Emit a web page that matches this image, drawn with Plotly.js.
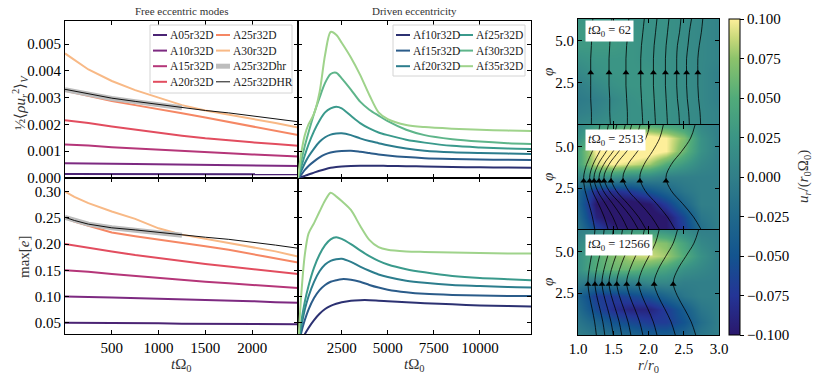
<!DOCTYPE html>
<html>
<head>
<meta charset="utf-8">
<script src="https://cdn.plot.ly/plotly-3.0.1.min.js"></script>
<style>
  html, body { margin: 0; padding: 0; background: #fff; }
  #chart { width: 816px; height: 378px; }
</style>
</head>
<body>
<div id="chart"></div>
<script>
// ---------- free eccentric modes ----------
var tFree   = [0, 100, 250, 500, 750, 1000, 1250, 1500, 1750, 2000, 2250, 2490];
var tFreeHr = [0, 100, 250, 500, 750, 1000, 1250];

var freeNames  = ["A05r32D", "A10r32D", "A15r32D", "A20r32D", "A25r32D", "A30r32D", "A25r32Dhr", "A25r32DHR"];
var freeColors = ["#4b2474", "#7d2a81", "#b53679", "#e24d5f", "#f58764", "#f8b986", "#bdbdbd", "#111111"];
var freeWidths = [2, 2, 2, 2, 2, 2, 5, 1];

// kinetic energy 1/2 <rho u_r^2>_V
var kinA05   = [0.00015, 0.00015, 0.00015, 0.00015, 0.00015, 0.00014, 0.00014, 0.00014, 0.00014, 0.00014, 0.00014, 0.00014];
var kinA10   = [0.00055, 0.00055, 0.00054, 0.00053, 0.00052, 0.00051, 0.00050, 0.00049, 0.00048, 0.00047, 0.00046, 0.00045];
var kinA15   = [0.00125, 0.00124, 0.00121, 0.00115, 0.00110, 0.00105, 0.00100, 0.00096, 0.00092, 0.00088, 0.00084, 0.00080];
var kinA20   = [0.00216, 0.00212, 0.00205, 0.00192, 0.00180, 0.00170, 0.00158, 0.00148, 0.00140, 0.00133, 0.00127, 0.00120];
var kinA25   = [0.00326, 0.00318, 0.00306, 0.00287, 0.00272, 0.00258, 0.00242, 0.00226, 0.00210, 0.00193, 0.00177, 0.00160];
var kinA30   = [0.00465, 0.00440, 0.00405, 0.00362, 0.00328, 0.00300, 0.00272, 0.00252, 0.00237, 0.00221, 0.00205, 0.00188];
var kinA25hr = [0.00330, 0.00323, 0.00313, 0.00297, 0.00285, 0.00274, 0.00262];
var kinA25HR = [0.00331, 0.00324, 0.00314, 0.00298, 0.00286, 0.00275, 0.00262, 0.00252, 0.00243, 0.00232, 0.00221, 0.00210];

// max eccentricity
var eccA05   = [0.050, 0.050, 0.050, 0.049, 0.049, 0.049, 0.048, 0.048, 0.048, 0.047, 0.047, 0.047];
var eccA10   = [0.100, 0.100, 0.099, 0.098, 0.097, 0.096, 0.095, 0.093, 0.092, 0.091, 0.089, 0.088];
var eccA15   = [0.150, 0.149, 0.147, 0.143, 0.139, 0.135, 0.131, 0.128, 0.125, 0.122, 0.119, 0.116];
var eccA20   = [0.200, 0.197, 0.193, 0.186, 0.179, 0.173, 0.167, 0.162, 0.157, 0.152, 0.147, 0.143];
var eccA25   = [0.250, 0.243, 0.235, 0.222, 0.215, 0.209, 0.202, 0.196, 0.189, 0.181, 0.173, 0.165];
var eccA30   = [0.300, 0.290, 0.278, 0.262, 0.248, 0.230, 0.218, 0.210, 0.203, 0.195, 0.186, 0.176];
var eccA25hr = [0.251, 0.245, 0.238, 0.231, 0.227, 0.222, 0.217];
var eccA25HR = [0.251, 0.245, 0.238, 0.231, 0.227, 0.222, 0.217, 0.213, 0.209, 0.204, 0.198, 0.192];

// ---------- driven eccentricity ----------
var tDriven = [130, 300, 500, 700, 1000, 1300, 1600, 1900, 2200, 2500, 3000, 3500, 4000, 4500, 5000, 6000, 7000, 8500, 10000, 11500, 12770];

var drivenNames  = ["Af10r32D", "Af15r32D", "Af20r32D", "Af25r32D", "Af30r32D", "Af35r32D"];
var drivenColors = ["#2c3172", "#2b5c8a", "#2c7d8d", "#3a9a8c", "#5eb58a", "#9fd38b"];

var kinAf10 = [0, 0.00003, 0.00008, 0.00013, 0.00020, 0.00027, 0.00033, 0.00038, 0.00041, 0.00043, 0.00045, 0.00046, 0.00046, 0.00046, 0.00045, 0.00044, 0.00043, 0.00041, 0.00040, 0.00039, 0.00038];
var kinAf15 = [0, 0.00012, 0.00030, 0.00045, 0.00062, 0.00077, 0.00088, 0.00095, 0.00099, 0.00101, 0.00102, 0.00098, 0.00093, 0.00088, 0.00084, 0.00078, 0.00074, 0.00071, 0.00069, 0.00068, 0.00067];
var kinAf20 = [0, 0.00025, 0.00055, 0.00080, 0.00110, 0.00135, 0.00152, 0.00162, 0.00166, 0.00167, 0.00160, 0.00148, 0.00138, 0.00130, 0.00122, 0.00110, 0.00102, 0.00096, 0.00093, 0.00091, 0.00090];
var kinAf25 = [0, 0.00040, 0.00085, 0.00125, 0.00175, 0.00215, 0.00245, 0.00260, 0.00266, 0.00260, 0.00232, 0.00205, 0.00185, 0.00170, 0.00160, 0.00143, 0.00132, 0.00120, 0.00114, 0.00110, 0.00108];
var kinAf30 = [0, 0.00060, 0.00120, 0.00170, 0.00240, 0.00300, 0.00355, 0.00388, 0.00393, 0.00372, 0.00330, 0.00285, 0.00255, 0.00233, 0.00212, 0.00180, 0.00160, 0.00145, 0.00136, 0.00130, 0.00127];
var kinAf35 = [0, 0.00090, 0.00160, 0.00200, 0.00240, 0.00320, 0.00460, 0.00545, 0.00535, 0.00505, 0.00450, 0.00385, 0.00310, 0.00245, 0.00220, 0.00198, 0.00190, 0.00184, 0.00180, 0.00177, 0.00175];

var eccAf10 = [0, 0.012, 0.028, 0.040, 0.055, 0.067, 0.076, 0.082, 0.086, 0.089, 0.092, 0.093, 0.093, 0.092, 0.091, 0.089, 0.087, 0.085, 0.083, 0.082, 0.081];
var eccAf15 = [0, 0.030, 0.055, 0.075, 0.097, 0.112, 0.122, 0.128, 0.131, 0.133, 0.132, 0.128, 0.122, 0.117, 0.113, 0.108, 0.105, 0.103, 0.102, 0.101, 0.101];
var eccAf20 = [0, 0.040, 0.075, 0.100, 0.128, 0.148, 0.161, 0.168, 0.171, 0.172, 0.166, 0.157, 0.149, 0.142, 0.137, 0.130, 0.126, 0.122, 0.120, 0.118, 0.117];
var eccAf25 = [0, 0.050, 0.090, 0.120, 0.155, 0.180, 0.198, 0.209, 0.213, 0.210, 0.200, 0.188, 0.177, 0.168, 0.161, 0.152, 0.146, 0.139, 0.135, 0.133, 0.131];
var eccAf35 = [0, 0.100, 0.180, 0.220, 0.240, 0.262, 0.283, 0.298, 0.291, 0.282, 0.265, 0.235, 0.208, 0.194, 0.189, 0.186, 0.185, 0.184, 0.183, 0.182, 0.182];

// ---------- u_r maps (rows = phi, columns = r) ----------
var rGrid   = [1.0, 1.25, 1.5, 1.75, 2.0, 2.25, 2.5, 2.75, 3.0];
var phiGrid = [0, 0.785, 1.571, 2.356, 3.142, 3.927, 4.712, 5.498, 6.283];
var snapTimes = [62, 2513, 12566];

var ur62 = [
  [0.010, 0.015, 0.020, 0.020, 0.020, 0.020, 0.015, 0.010, 0.005],
  [0.000, 0.005, 0.015, 0.020, 0.020, 0.020, 0.015, 0.010, 0.005],
  [-0.005, 0.000, 0.010, 0.020, 0.025, 0.020, 0.015, 0.010, 0.000],
  [0.000, 0.010, 0.020, 0.025, 0.025, 0.020, 0.015, 0.010, 0.000],
  [0.010, 0.020, 0.025, 0.025, 0.025, 0.020, 0.015, 0.010, 0.000],
  [0.020, 0.025, 0.025, 0.025, 0.020, 0.020, 0.015, 0.010, 0.005],
  [0.030, 0.030, 0.030, 0.025, 0.020, 0.020, 0.015, 0.010, 0.005],
  [0.030, 0.030, 0.030, 0.025, 0.020, 0.020, 0.015, 0.010, 0.005],
  [0.025, 0.025, 0.025, 0.020, 0.020, 0.020, 0.015, 0.010, 0.005]
];
var ur2513 = [
  [-0.010, -0.060, -0.090, -0.100, -0.110, -0.100, -0.070, -0.020, 0.000],
  [-0.020, -0.090, -0.110, -0.110, -0.110, -0.100, -0.060, -0.010, 0.000],
  [-0.030, -0.100, -0.110, -0.110, -0.100, -0.070, -0.030, 0.000, 0.000],
  [-0.030, -0.080, -0.080, -0.070, -0.050, -0.030, -0.010, 0.000, 0.000],
  [0.010, 0.020, 0.020, 0.010, 0.010, 0.000, 0.000, 0.000, 0.000],
  [0.040, 0.090, 0.100, 0.090, 0.080, 0.050, 0.030, 0.010, 0.000],
  [0.040, 0.100, 0.120, 0.120, 0.110, 0.100, 0.060, 0.020, 0.000],
  [0.020, 0.060, 0.090, 0.100, 0.110, 0.100, 0.070, 0.020, 0.000],
  [0.010, 0.030, 0.040, 0.050, 0.050, 0.040, 0.030, 0.010, 0.000]
];
var ur12566 = [
  [0.000, -0.010, -0.020, -0.030, -0.040, -0.040, -0.030, -0.010, 0.000],
  [-0.010, -0.030, -0.050, -0.060, -0.070, -0.070, -0.050, -0.020, 0.000],
  [-0.020, -0.060, -0.080, -0.090, -0.090, -0.070, -0.040, -0.010, 0.000],
  [-0.030, -0.070, -0.070, -0.060, -0.050, -0.030, -0.010, 0.000, 0.000],
  [0.000, -0.010, 0.000, 0.000, 0.010, 0.010, 0.000, 0.000, 0.000],
  [0.020, 0.050, 0.060, 0.060, 0.050, 0.040, 0.020, 0.010, 0.000],
  [0.020, 0.050, 0.070, 0.085, 0.090, 0.080, 0.050, 0.020, 0.000],
  [0.010, 0.030, 0.050, 0.070, 0.080, 0.070, 0.040, 0.010, 0.000],
  [0.000, 0.010, 0.020, 0.030, 0.030, 0.020, 0.010, 0.000, 0.000]
];

// streamlines: r position of each line at the phi samples
var streamPhi = [0, 0.785, 1.571, 2.356, 3.142, 3.927, 4.712, 5.498, 6.283];
var stream62 = [
  [1.19, 1.19, 1.18, 1.18, 1.18, 1.18, 1.19, 1.20, 1.21],
  [1.46, 1.45, 1.45, 1.44, 1.44, 1.44, 1.45, 1.46, 1.48],
  [1.70, 1.70, 1.69, 1.68, 1.68, 1.68, 1.69, 1.71, 1.72],
  [1.92, 1.91, 1.90, 1.89, 1.89, 1.89, 1.90, 1.92, 1.94],
  [2.10, 2.09, 2.08, 2.07, 2.07, 2.07, 2.08, 2.10, 2.12],
  [2.27, 2.26, 2.25, 2.24, 2.24, 2.24, 2.25, 2.27, 2.29],
  [2.44, 2.43, 2.41, 2.40, 2.40, 2.40, 2.41, 2.44, 2.46],
  [2.58, 2.57, 2.55, 2.54, 2.54, 2.54, 2.56, 2.58, 2.61],
  [2.74, 2.73, 2.71, 2.70, 2.70, 2.70, 2.72, 2.75, 2.77]
];
var stream2513 = [
  [1.24, 1.204, 1.154, 1.101, 1.080, 1.122, 1.204, 1.275, 1.31],
  [1.43, 1.371, 1.290, 1.203, 1.165, 1.214, 1.309, 1.390, 1.43],
  [1.57, 1.493, 1.388, 1.276, 1.227, 1.286, 1.402, 1.501, 1.55],
  [1.71, 1.618, 1.492, 1.357, 1.298, 1.366, 1.499, 1.613, 1.67],
  [1.86, 1.750, 1.600, 1.440, 1.368, 1.440, 1.580, 1.700, 1.76],
  [1.97, 1.858, 1.705, 1.542, 1.468, 1.544, 1.691, 1.817, 1.88],
  [2.16, 2.043, 1.884, 1.715, 1.638, 1.708, 1.845, 1.962, 2.02],
  [2.38, 2.268, 2.115, 1.952, 1.877, 1.938, 2.057, 2.159, 2.21],
  [2.75, 2.638, 2.485, 2.322, 2.248, 2.324, 2.471, 2.597, 2.66]
];
var stream12566 = [
  [1.26, 1.236, 1.200, 1.162, 1.14, 1.158, 1.190, 1.222, 1.24],
  [1.38, 1.352, 1.310, 1.265, 1.24, 1.263, 1.305, 1.347, 1.37],
  [1.50, 1.468, 1.420, 1.369, 1.34, 1.369, 1.420, 1.471, 1.50],
  [1.62, 1.584, 1.530, 1.472, 1.44, 1.474, 1.535, 1.596, 1.63],
  [1.75, 1.710, 1.650, 1.586, 1.55, 1.590, 1.660, 1.730, 1.77],
  [1.92, 1.874, 1.805, 1.731, 1.69, 1.735, 1.815, 1.895, 1.94],
  [2.12, 2.068, 1.990, 1.907, 1.86, 1.912, 2.005, 2.098, 2.15],
  [2.38, 2.320, 2.230, 2.134, 2.08, 2.139, 2.245, 2.351, 2.41],
  [2.67, 2.606, 2.510, 2.408, 2.35, 2.415, 2.530, 2.645, 2.71]
];
// arrow heads on the streamlines
var arrowPhi = [3.09, 2.93, 3.03];
var arrowR62    = [1.18, 1.44, 1.68, 1.89, 2.07, 2.24, 2.40, 2.54, 2.70];
var arrowR2513  = [1.08, 1.165, 1.227, 1.298, 1.368, 1.468, 1.638, 1.877, 2.248];
var arrowR12566 = [1.14, 1.24, 1.34, 1.44, 1.55, 1.69, 1.86, 2.08, 2.35];

var freeTicks = [500, 1000, 1500, 2000];
var drivenTicks = [2500, 5000, 7500, 10000];
var kinTicks = [0, 0.001, 0.002, 0.003, 0.004, 0.005];
var eccTicks = [0.05, 0.10, 0.15, 0.20, 0.25, 0.30];
var urTicks = [-0.1, -0.075, -0.05, -0.025, 0, 0.025, 0.05, 0.075, 0.1];

var SERIF = "Liberation Serif";
var W = 816, H = 378;
function px(x) { return x / W; }
function py(y) { return 1 - y / H; }

var traces = [];

var kinFree = [kinA05, kinA10, kinA15, kinA20, kinA25, kinA30, kinA25hr, kinA25HR];
var eccFree = [eccA05, eccA10, eccA15, eccA20, eccA25, eccA30, eccA25hr, eccA25HR];
freeNames.forEach(function(name, i) {
  var t = (i == 6) ? tFreeHr : tFree;
  traces.push({x: t, y: kinFree[i], xaxis: "x2", yaxis: "y2", type: "scatter", mode: "lines",
    name: name, line: {color: freeColors[i], width: freeWidths[i]}, hoverinfo: "skip"});
  traces.push({x: t, y: eccFree[i], xaxis: "x", yaxis: "y", type: "scatter", mode: "lines",
    name: name, line: {color: freeColors[i], width: freeWidths[i]}, hoverinfo: "skip"});
});

var kinDriven = [kinAf10, kinAf15, kinAf20, kinAf25, kinAf30, kinAf35];
var eccDriven = [eccAf10, eccAf15, eccAf20, eccAf25, null, eccAf35];
drivenNames.forEach(function(name, i) {
  traces.push({x: tDriven, y: kinDriven[i], xaxis: "x4", yaxis: "y4", type: "scatter", mode: "lines",
    name: name, line: {color: drivenColors[i], width: 2, shape: "spline", smoothing: 0.8}, hoverinfo: "skip"});
  if (eccDriven[i]) {
    traces.push({x: tDriven, y: eccDriven[i], xaxis: "x3", yaxis: "y3", type: "scatter", mode: "lines",
      name: name, line: {color: drivenColors[i], width: 2, shape: "spline", smoothing: 0.8}, hoverinfo: "skip"});
  }
});

var maps = [ur62, ur2513, ur12566];
var streams = [stream62, stream2513, stream12566];
var arrows = [arrowR62, arrowR2513, arrowR12566];
maps.forEach(function(z, k) {
  var xa = "x" + (5 + k), ya = "y" + (5 + k);
  traces.push({type: "heatmap", x: rGrid, y: phiGrid, z: z, coloraxis: "coloraxis",
    zsmooth: "best", xaxis: xa, yaxis: ya, hoverinfo: "skip"});
  streams[k].forEach(function(line) {
    traces.push({x: line, y: streamPhi, xaxis: xa, yaxis: ya, type: "scatter", mode: "lines",
      line: {color: "black", width: 0.8, shape: "spline"}, hoverinfo: "skip"});
  });
  traces.push({x: arrows[k], y: arrows[k].map(function() { return arrowPhi[k]; }),
    xaxis: xa, yaxis: ya, type: "scatter", mode: "markers",
    marker: {symbol: "triangle-up", size: 6, color: "black"}, hoverinfo: "skip"});
});

var tickFont = {family: SERIF, size: 15, color: "black"};
var axisBase = {
  showline: true, linecolor: "black", linewidth: 1, mirror: "ticks",
  ticks: "inside", ticklen: 4, tickcolor: "black", showgrid: false, zeroline: false,
  tickfont: tickFont, fixedrange: true
};
function ax(extra) { return Object.assign({}, axisBase, extra); }

var leftX = [px(65), px(298)], midX = [px(298), px(531)], mapX = [px(578), px(719)];
var topY = [py(178), py(21)], botY = [py(334), py(178)];

var layout = {
  width: W, height: H,
  margin: {l: 0, r: 0, t: 0, b: 0},
  paper_bgcolor: "white", plot_bgcolor: "white",
  showlegend: false,
  font: {family: SERIF, size: 14, color: "black"},
  xaxis:  ax({domain: leftX, range: [0, 2490], tickvals: freeTicks, tickformat: "d", anchor: "y"}),
  yaxis:  ax({domain: botY, range: [0.0284, 0.326], tickvals: eccTicks, tickformat: ".2f", anchor: "x"}),
  xaxis2: ax({domain: leftX, range: [0, 2490], tickvals: freeTicks, showticklabels: false, anchor: "y2"}),
  yaxis2: ax({domain: topY, range: [0, 0.00586], tickvals: kinTicks, tickformat: ".3f", anchor: "x2"}),
  xaxis3: ax({domain: midX, range: [130, 12770], tickvals: drivenTicks, tickformat: "d", anchor: "y3"}),
  yaxis3: ax({domain: botY, range: [0.0284, 0.326], tickvals: eccTicks, showticklabels: false, anchor: "x3"}),
  xaxis4: ax({domain: midX, range: [130, 12770], tickvals: drivenTicks, showticklabels: false, anchor: "y4"}),
  yaxis4: ax({domain: topY, range: [0, 0.00586], tickvals: kinTicks, showticklabels: false, anchor: "x4"}),
  xaxis5: ax({domain: mapX, range: [1, 3], tickvals: [1, 1.5, 2, 2.5, 3], showticklabels: false, anchor: "y5"}),
  yaxis5: ax({domain: [py(125), py(19)], range: [0, 6.283], tickvals: [2.5, 5], tickformat: ".1f", anchor: "x5"}),
  xaxis6: ax({domain: mapX, range: [1, 3], tickvals: [1, 1.5, 2, 2.5, 3], showticklabels: false, anchor: "y6"}),
  yaxis6: ax({domain: [py(230), py(125)], range: [0, 6.283], tickvals: [2.5, 5], tickformat: ".1f", anchor: "x6"}),
  xaxis7: ax({domain: mapX, range: [1, 3], tickvals: [1, 1.5, 2, 2.5, 3], tickformat: ".1f", anchor: "y7"}),
  yaxis7: ax({domain: [py(335), py(230)], range: [0, 6.283], tickvals: [2.5, 5], tickformat: ".1f", anchor: "x7"}),
  coloraxis: {
    cmin: -0.1, cmax: 0.1,
    colorscale: [[0, "#2a186c"], [0.125, "#243596"], [0.25, "#13548f"], [0.375, "#20698b"],
                 [0.5, "#317f89"], [0.625, "#3b9585"], [0.75, "#51ab7a"], [0.875, "#8dc36b"],
                 [0.94, "#c9d97a"], [1, "#fdef9a"]],
    colorbar: {
      x: px(729), xanchor: "left", y: py(19), yanchor: "top",
      len: (335 - 19) / H, lenmode: "fraction", thickness: 11,
      xpad: 0, ypad: 0, outlinewidth: 1, outlinecolor: "black",
      ticks: "outside", ticklen: 4, tickcolor: "black",
      tickvals: urTicks, tickformat: ".3f", tickfont: tickFont
    }
  },
  shapes: [],
  annotations: []
};

function label(text, x, y, opts) {
  layout.annotations.push(Object.assign({
    text: text, x: px(x), y: py(y), xref: "paper", yref: "paper",
    xanchor: "center", yanchor: "middle",
    showarrow: false, font: {family: SERIF, size: 15, color: "#333"}
  }, opts || {}));
}

// panel titles and axis labels
label("Free eccentric modes", 181.5, 11, {font: {family: SERIF, size: 11, color: "#333"}});
label("Driven eccentricity", 414.5, 11, {font: {family: SERIF, size: 11, color: "#333"}});
label("½⟨<i>ρu</i><sub><i>r</i></sub><sup>2</sup>⟩<sub><i>V</i></sub>", 20, 103, {textangle: -90});
label("max[<i>e</i>]", 24, 257, {textangle: -90});
label("<i>t</i>Ω<sub>0</sub>", 181.5, 365);
label("<i>t</i>Ω<sub>0</sub>", 414.5, 365);
label("<i>r</i>/<i>r</i><sub>0</sub>", 648.5, 366);
[72, 177, 282].forEach(function(y) { label("<i>φ</i>", 548, y, {textangle: -90}); });
label("<i>u<sub>r</sub></i>/(<i>r</i><sub>0</sub>Ω<sub>0</sub>)", 804, 177, {textangle: -90});

// snapshot time boxes
[30.5, 140, 244.5].forEach(function(y, k) {
  label("<i>t</i>Ω<sub>0</sub> = " + snapTimes[k], 585, y,
    {xanchor: "left", bgcolor: "white", borderpad: 2, font: {family: SERIF, size: 12.5, color: "#222"}});
});

// legends drawn as boxes with line swatches
function legendBox(x0, y0, x1, y1) {
  layout.shapes.push({type: "rect", xref: "paper", yref: "paper", layer: "above",
    x0: px(x0), x1: px(x1), y0: py(y0), y1: py(y1),
    fillcolor: "rgba(255,255,255,0.8)", line: {color: "#d4d4d4", width: 1}});
}
function legendEntry(name, color, width, x, y) {
  layout.shapes.push({type: "line", xref: "paper", yref: "paper", layer: "above",
    x0: px(x), x1: px(x + 14), y0: py(y), y1: py(y), line: {color: color, width: width}});
  label(name, x + 15, y, {xanchor: "left", font: {family: SERIF, size: 11.5, color: "#222"}});
}
legendBox(150, 25, 292, 93);
freeNames.forEach(function(name, i) {
  var col = Math.floor(i / 4), row = i % 4;
  legendEntry(name, freeColors[i], freeWidths[i], col ? 216 : 153, 35 + row * 15.6);
});
legendBox(393, 25, 525, 76);
drivenNames.forEach(function(name, i) {
  var col = Math.floor(i / 3), row = i % 3;
  legendEntry(name, drivenColors[i], 2, col ? 459 : 396, 35 + row * 15.6);
});

Plotly.newPlot("chart", traces, layout, {displayModeBar: false, staticPlot: true});
</script>
</body>
</html>
